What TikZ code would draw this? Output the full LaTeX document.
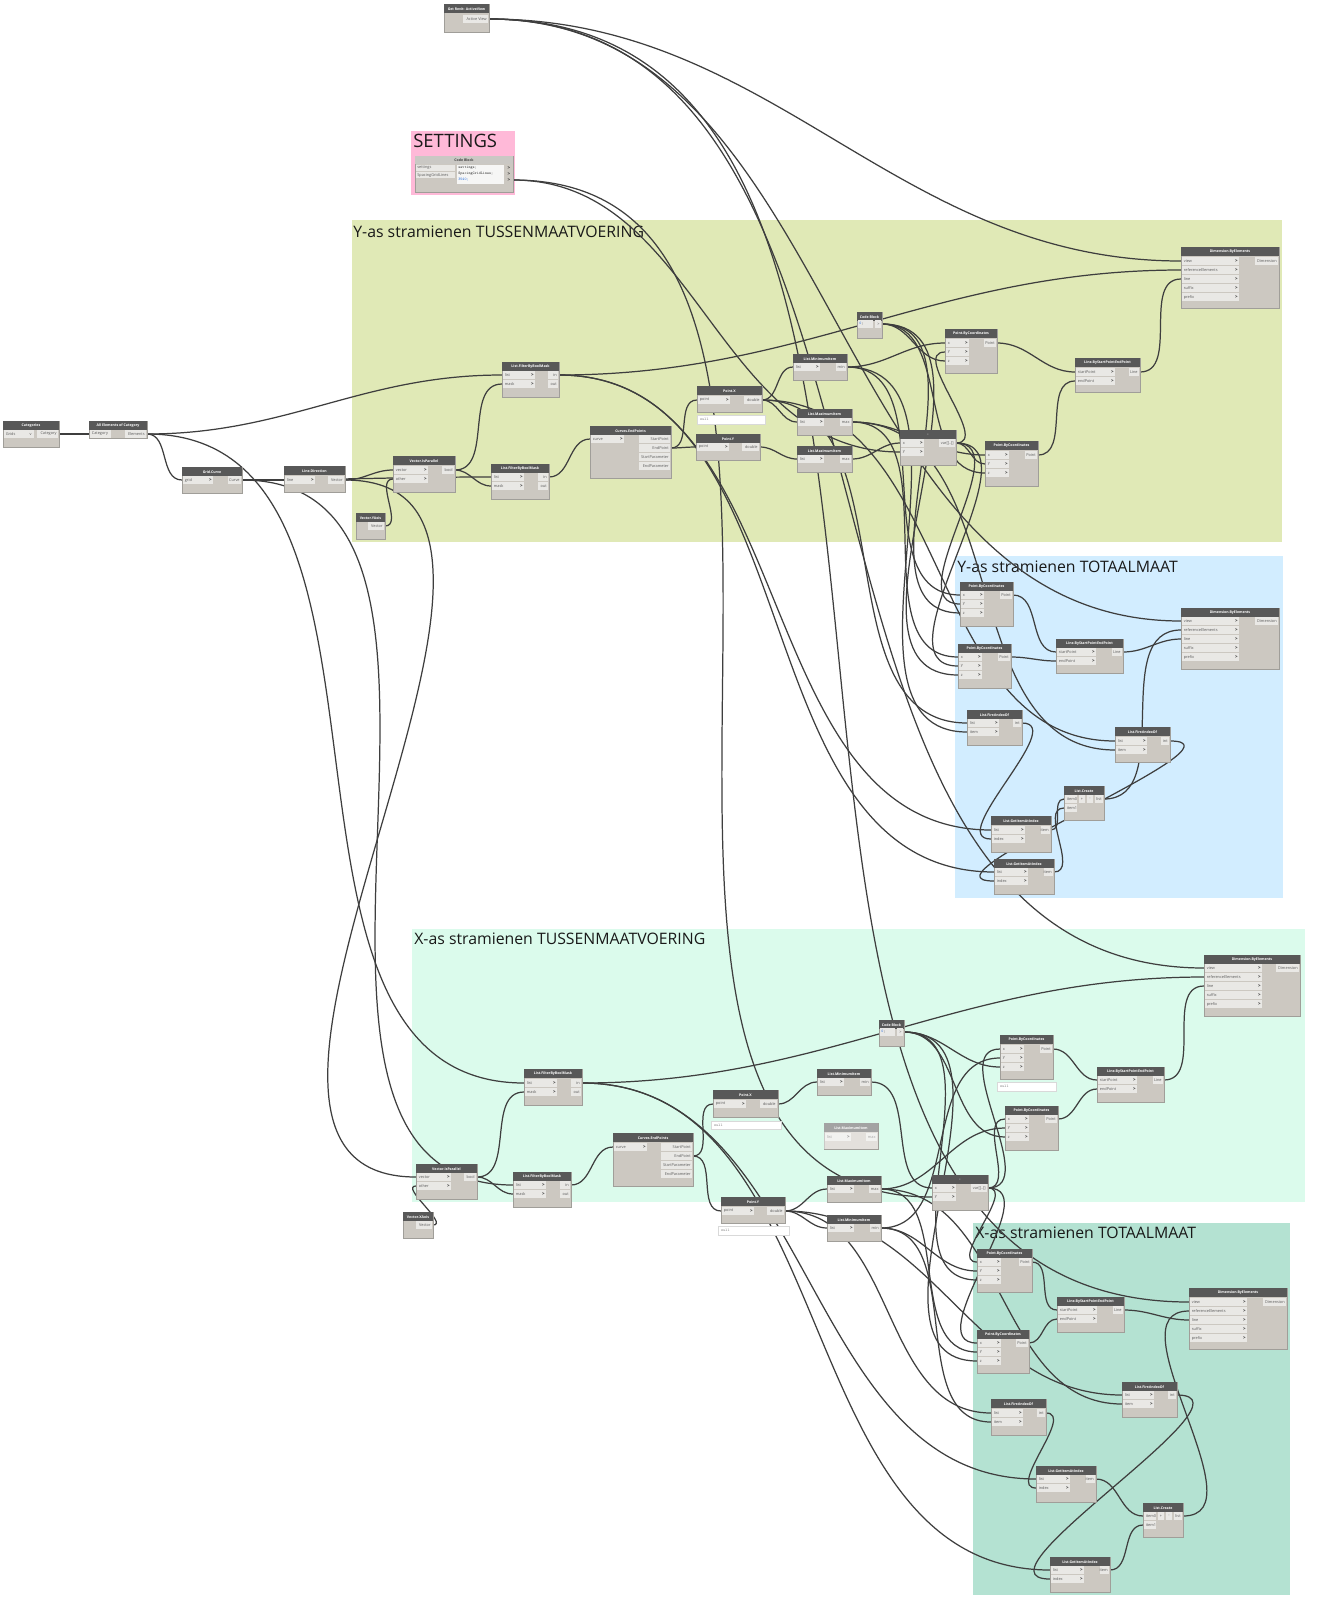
\documentclass[tikz,border=0pt]{standalone}
\usepackage{fontspec}
\newfontfamily\uifont{Open Sans}
\usetikzlibrary{positioning}
\usetikzlibrary{fit}
\usetikzlibrary{backgrounds}

\definecolor{dynhead}{RGB}{88,88,88}
\definecolor{dynheadlight}{RGB}{202,200,196}
\definecolor{dynbody}{RGB}{204,200,193}
\definecolor{dynport}{RGB}{233,232,229}
\definecolor{dynborder}{RGB}{160,158,153}
\definecolor{dynwire}{RGB}{62,62,62}
\definecolor{dyntext}{RGB}{90,90,90}
\definecolor{codeblue}{RGB}{40,110,220}
\definecolor{grpytus}{RGB}{224,233,182}
\definecolor{grpset}{RGB}{255,185,216}
\definecolor{grpytot}{RGB}{210,237,255}
\definecolor{grpxtus}{RGB}{219,251,236}
\definecolor{grpxtot}{RGB}{180,226,210}

\pgfdeclarelayer{groups}
\pgfdeclarelayer{wires}
\pgfsetlayers{groups,wires,main}

\tikzset{
  dbody/.style={fill=dynbody, draw=dynborder, line width=0.3pt, inner sep=0pt, outer sep=0pt},
  dtitle/.style={text=white, inner sep=0pt, font=\uifont\bfseries\fontsize{2}{2.4}\selectfont},
  plabel/.style={text=dyntext, inner sep=0pt, font=\uifont\fontsize{2.2}{2.6}\selectfont},
  parrow/.style={text=black!80, inner sep=0pt, font=\uifont\bfseries\fontsize{2.6}{2.8}\selectfont},
  nullbox/.style={fill=white, draw=black!15, line width=0.2pt, inner sep=0pt},
  nulltext/.style={text=black!50, inner sep=0pt, font=\ttfamily\fontsize{2.2}{2.6}\selectfont},
  codetext/.style={text=black!80, inner sep=0pt, font=\ttfamily\fontsize{2.2}{2.6}\selectfont},
  wire/.style={draw=dynwire, line width=0.7pt, out=0, in=180},
  gtitle/.style={inner sep=0pt, anchor=base west, text=black!90, font=\uifont\fontsize{9}{10}\selectfont},
}

% node body with title bar: name, x1, y1, x2, y2, title
\newcommand{\dnode}[6]{%
  \node[dbody, fit={(#2,#3) (#4,#5)}] (#1) {};
  \fill[dynhead] (#2,#3) rectangle (#4,#3+9);
  \node[dtitle] (#1-t) at ({(#2+#4)/2},#3+4.7) {#6};
}
% input port with arrow: name, x, y, width, label
\newcommand{\pin}[5]{%
  \fill[dynport] (#2+1,#3-4) rectangle (#2+#4,#3+4);
  \node[plabel, anchor=west] (#1-l) at (#2+2.5,#3) {#5};
  \node[parrow, anchor=east] (#1-a) at (#2+#4-1,#3) {>};
  \coordinate (#1) at (#2,#3);
}
% input port without arrow
\newcommand{\pbox}[5]{%
  \fill[dynport] (#2+1,#3-4) rectangle (#2+#4,#3+4);
  \node[plabel, anchor=west] (#1-l) at (#2+2.5,#3) {#5};
  \coordinate (#1) at (#2,#3);
}
% output port: name, x, y, width, label
\newcommand{\pout}[5]{%
  \fill[dynport] (#2-#4,#3-4) rectangle (#2-1,#3+4);
  \node[plabel, anchor=east] (#1-l) at (#2-2,#3) {#5};
  \coordinate (#1) at (#2,#3);
}

\begin{document}
\begin{tikzpicture}[x=0.02cm, y=-0.02cm]
\useasboundingbox (0,0) rectangle (1323,1600);

%%%% groups %%%%
\begin{pgfonlayer}{groups}
	\fill[white] (0,0) rectangle (1323,1600);
	\fill[grpset] (411,131) rectangle (515,195);
	\node[gtitle, font=\uifont\fontsize{10.5}{11}\selectfont] (gset) at (413,147) {SETTINGS};
	\fill[grpytus] (352,220) rectangle (1282,542);
	\node[gtitle] (gytus) at (353,237) {Y-as stramienen TUSSENMAATVOERING};
	\fill[grpytot] (955,556) rectangle (1283,898);
	\node[gtitle] (gytot) at (957,572) {Y-as stramienen TOTAALMAAT};
	\fill[grpxtus] (412,929) rectangle (1305,1202);
	\node[gtitle] (gxtus) at (414,944) {X-as stramienen TUSSENMAATVOERING};
	\fill[grpxtot] (973,1223) rectangle (1290,1595);
	\node[gtitle] (gxtot) at (975,1238) {X-as stramienen TOTAALMAAT};
\end{pgfonlayer}

%%% Inputs %%%

	\dnode{view}{444}{4}{489}{32}{Get Revit: ActiveView}
	\pout{viewO}{489}{19}{26}{Active View}

	\node[dbody, fit={(415,156) (513,192)}] (setcode) {};
	\fill[dynheadlight] (415,156) rectangle (513,164);
	\node[dtitle, text=black!75] (setcode-t) at (464,160.3) {Code Block};
	\fill[dynport] (416,165) rectangle (455,171);
	\node[plabel, anchor=west] (setIa) at (417,168) {settings};
	\fill[dynport] (416,172) rectangle (455,178);
	\node[plabel, anchor=west] (setIb) at (417,175) {SpacingGridLines};
	\fill[white!60!dynport] (457,165) rectangle (504,184);
	\node[codetext, anchor=west] (setC1) at (458,168) {settings;};
	\node[codetext, anchor=west] (setC2) at (458,174) {SpacingGridLines;};
	\node[codetext, anchor=west, text=codeblue] (setC3) at (458,180) {3540;};
	\node[parrow] (setA1) at (509,168) {>};
	\node[parrow] (setA2) at (509,174) {>};
	\node[parrow] (setA3) at (509,180) {>};
	\coordinate (setO) at (513,180);

	\dnode{cat}{3}{421}{59}{447}{Categories}
	\fill[dynport] (4,430) rectangle (34,438);
	\node[plabel, anchor=west] (cat-dd) at (5.5,434) {Grids};
	\node[plabel, anchor=east] (cat-v) at (32,434) {v};
	\pout{catO}{59}{434}{22}{Category}

	\dnode{allel}{89}{421}{147}{438}{All Elements of Category}
	\pbox{allelI}{89}{434}{22}{Category}
	\pout{allelO}{147}{434}{22}{Elements}

	\dnode{gcurve}{182}{467}{242}{493}{Grid.Curve}
	\pin{gcI}{182}{480}{31}{grid}
	\pout{gcO}{242}{480}{14}{Curve}

	\dnode{ldir}{284}{466}{345}{492}{Line.Direction}
	\pin{ldI}{284}{480}{31}{line}
	\pout{ldO}{345}{480}{17}{Vector}

%%% Y-as tussenmaat %%%

	\dnode{yaxis}{356}{513}{385}{539}{Vector.YAxis}
	\pout{yaxO}{385}{526}{17}{Vector}

	\dnode{ypar}{393}{456}{455}{492}{Vector.IsParallel}
	\pin{yparV}{393}{470}{35}{vector}
	\pin{yparOt}{393}{479}{35}{other}
	\pout{yparB}{455}{470}{13}{bool}

	\dnode{yft}{502}{362}{559}{397}{List.FilterByBoolMask}
	\pin{yftL}{502}{375}{33}{list}
	\pin{yftM}{502}{384}{33}{mask}
	\pout{yftI}{559}{375}{11}{in}
	\pout{yftO}{559}{384}{11}{out}

	\dnode{yfl}{491}{464}{549}{499}{List.FilterByBoolMask}
	\pin{yflL}{491}{477}{33}{list}
	\pin{yflM}{491}{486}{33}{mask}
	\pout{yflI}{549}{477}{11}{in}
	\pout{yflO}{549}{486}{11}{out}

	\dnode{yend}{590}{426}{671}{478}{Curves.EndPoints}
	\pin{yendC}{590}{439}{34}{curve}
	\pout{yendS}{671}{439}{32}{StartPoint}
	\pout{yendE}{671}{448}{32}{EndPoint}
	\pout{yendSP}{671}{457}{32}{StartParameter}
	\pout{yendEP}{671}{466}{32}{EndParameter}

	\dnode{ypx}{697}{386}{762}{412}{Point.X}
	\pin{ypxP}{697}{400}{33}{point}
	\pout{ypxD}{762}{400}{18}{double}
	\node[nullbox, fit={(697,415) (765,424)}] (ypx-n) {};
	\node[nulltext, anchor=west] (ypx-nt) at (700,419.5) {null};

	\dnode{ypy}{696}{434}{760}{460}{Point.Y}
	\pin{ypyP}{696}{447}{33}{point}
	\pout{ypyD}{760}{447}{18}{double}

	\dnode{ymin}{793}{354}{847}{380}{List.MinimumItem}
	\pin{yminL}{793}{367}{27}{list}
	\pout{yminO}{847}{367}{11}{min}

	\dnode{ymaxa}{797}{409}{852}{435}{List.MaximumItem}
	\pin{ymaxaL}{797}{422}{27}{list}
	\pout{ymaxaO}{852}{422}{12}{max}

	\dnode{ymaxb}{797}{446}{852}{472}{List.MaximumItem}
	\pin{ymaxbL}{797}{459}{27}{list}
	\pout{ymaxbO}{852}{459}{12}{max}

	\dnode{ycode}{857}{312}{882}{338}{Code Block}
	\fill[dynport] (858,320) rectangle (873,328);
	\node[codetext, anchor=west] (ycode-c) at (859,324) {\textcolor{codeblue}{0};};
	\pout{ycodeO}{882}{324}{7}{>}

	\dnode{ysub}{900}{430}{956}{465}{-}
	\pin{ysubX}{900}{443}{24}{x}
	\pin{ysubY}{900}{452}{24}{y}
	\pout{ysubO}{956}{443}{17}{var[]..[]}

	\dnode{ypa}{945}{329}{997}{373}{Point.ByCoordinates}
	\pin{ypaX}{945}{343}{24}{x}
	\pin{ypaY}{945}{352}{24}{y}
	\pin{ypaZ}{945}{361}{24}{z}
	\pout{ypaO}{997}{343}{13}{Point}

	\dnode{ypb}{985}{441}{1038}{486}{Point.ByCoordinates}
	\pin{ypbX}{985}{455}{24}{x}
	\pin{ypbY}{985}{464}{24}{y}
	\pin{ypbZ}{985}{473}{24}{z}
	\pout{ypbO}{1038}{455}{13}{Point}

	\dnode{yline}{1075}{358}{1140}{392}{Line.ByStartPointEndPoint}
	\pin{ylineS}{1075}{372}{40}{startPoint}
	\pin{ylineE}{1075}{381}{40}{endPoint}
	\pout{ylineO}{1140}{372}{11}{Line}

	\dnode{ydim}{1181}{247}{1279}{308}{Dimension.ByElements}
	\pin{ydimV}{1181}{261}{58}{view}
	\pin{ydimR}{1181}{270}{58}{referenceElements}
	\pin{ydimL}{1181}{279}{58}{line}
	\pin{ydimS}{1181}{288}{58}{suffix}
	\pin{ydimP}{1181}{297}{58}{prefix}
	\pout{ydimO}{1279}{261}{24}{Dimension}

%%% Y-as totaalmaat %%%

	\dnode{ytpa}{960}{582}{1013}{626}{Point.ByCoordinates}
	\pin{ytpaX}{960}{595}{24}{x}
	\pin{ytpaY}{960}{604}{24}{y}
	\pin{ytpaZ}{960}{613}{24}{z}
	\pout{ytpaO}{1013}{595}{13}{Point}

	\dnode{ytpb}{958}{644}{1011}{688}{Point.ByCoordinates}
	\pin{ytpbX}{958}{657}{24}{x}
	\pin{ytpbY}{958}{666}{24}{y}
	\pin{ytpbZ}{958}{675}{24}{z}
	\pout{ytpbO}{1011}{657}{13}{Point}

	\dnode{ytline}{1056}{639}{1123}{673}{Line.ByStartPointEndPoint}
	\pin{ytlineS}{1056}{652}{40}{startPoint}
	\pin{ytlineE}{1056}{661}{40}{endPoint}
	\pout{ytlineO}{1123}{652}{11}{Line}

	\dnode{ytdim}{1181}{608}{1279}{669}{Dimension.ByElements}
	\pin{ytdimV}{1181}{621}{58}{view}
	\pin{ytdimR}{1181}{630}{58}{referenceElements}
	\pin{ytdimL}{1181}{639}{58}{line}
	\pin{ytdimS}{1181}{648}{58}{suffix}
	\pin{ytdimP}{1181}{657}{58}{prefix}
	\pout{ytdimO}{1279}{621}{24}{Dimension}

	\dnode{ytfa}{967}{710}{1022}{745}{List.FirstIndexOf}
	\pin{ytfaL}{967}{723}{32}{list}
	\pin{ytfaI}{967}{732}{32}{item}
	\pout{ytfaO}{1022}{723}{9}{int}

	\dnode{ytfb}{1115}{727}{1170}{762}{List.FirstIndexOf}
	\pin{ytfbL}{1115}{741}{32}{list}
	\pin{ytfbI}{1115}{750}{32}{item}
	\pout{ytfbO}{1170}{741}{9}{int}

	\dnode{ytcr}{1064}{786}{1104}{820}{List.Create}
	\pbox{ytcrI0}{1064}{799}{13}{item0}
	\pbox{ytcrI1}{1064}{808}{13}{item1}
	\fill[dynport] (1079,795) rectangle (1085,803);
	\node[plabel] (ytcr-p) at (1082,799) {+};
	\fill[dynport] (1087,795) rectangle (1093,803);
	\node[plabel] (ytcr-m) at (1090,799) {-};
	\pout{ytcrO}{1104}{799}{9}{list}

	\dnode{ytga}{991}{816}{1051}{852}{List.GetItemAtIndex}
	\pin{ytgaL}{991}{830}{34}{list}
	\pin{ytgaX}{991}{839}{34}{index}
	\pout{ytgaO}{1051}{830}{10}{item}

	\dnode{ytgb}{994}{859}{1054}{894}{List.GetItemAtIndex}
	\pin{ytgbL}{994}{872}{34}{list}
	\pin{ytgbX}{994}{881}{34}{index}
	\pout{ytgbO}{1054}{872}{10}{item}

%%% X-as tussenmaat %%%

	\dnode{xaxis}{403}{1212}{433}{1238}{Vector.XAxis}
	\pout{xaxO}{433}{1225}{17}{Vector}

	\dnode{xpar}{416}{1164}{477}{1199}{Vector.IsParallel}
	\pin{xparV}{416}{1177}{35}{vector}
	\pin{xparOt}{416}{1186}{35}{other}
	\pout{xparB}{477}{1177}{13}{bool}

	\dnode{xft}{524}{1069}{582}{1105}{List.FilterByBoolMask}
	\pin{xftL}{524}{1083}{33}{list}
	\pin{xftM}{524}{1092}{33}{mask}
	\pout{xftI}{582}{1083}{11}{in}
	\pout{xftO}{582}{1092}{11}{out}

	\dnode{xfl}{513}{1172}{571}{1207}{List.FilterByBoolMask}
	\pin{xflL}{513}{1185}{33}{list}
	\pin{xflM}{513}{1194}{33}{mask}
	\pout{xflI}{571}{1185}{11}{in}
	\pout{xflO}{571}{1194}{11}{out}

	\dnode{xend}{613}{1133}{693}{1186}{Curves.EndPoints}
	\pin{xendC}{613}{1147}{34}{curve}
	\pout{xendS}{693}{1147}{32}{StartPoint}
	\pout{xendE}{693}{1156}{32}{EndPoint}
	\pout{xendSP}{693}{1165}{32}{StartParameter}
	\pout{xendEP}{693}{1174}{32}{EndParameter}

	\dnode{xpx}{713}{1090}{778}{1117}{Point.X}
	\pin{xpxP}{713}{1104}{33}{point}
	\pout{xpxD}{778}{1104}{18}{double}
	\node[nullbox, fit={(711,1121) (781,1129)}] (xpx-n) {};
	\node[nulltext, anchor=west] (xpx-nt) at (714,1125) {null};

	\dnode{xpy}{721}{1197}{785}{1223}{Point.Y}
	\pin{xpyP}{721}{1211}{33}{point}
	\pout{xpyD}{785}{1211}{18}{double}
	\node[nullbox, fit={(718,1226) (789,1235)}] (xpy-n) {};
	\node[nulltext, anchor=west] (xpy-nt) at (721,1230.5) {null};

	\dnode{xminu}{817}{1069}{871}{1095}{List.MinimumItem}
	\pin{xminuL}{817}{1082}{27}{list}
	\pout{xminuO}{871}{1082}{11}{min}

	\dnode{xmaxf}{824}{1123}{878}{1149}{List.MaximumItem}
	\pin{xmaxfL}{824}{1137}{27}{list}
	\pout{xmaxfO}{878}{1137}{12}{max}
	\fill[white, opacity=0.45] (xmaxf.south west) rectangle (xmaxf.north east);

	\dnode{xmax}{827}{1176}{881}{1202}{List.MaximumItem}
	\pin{xmaxL}{827}{1189}{27}{list}
	\pout{xmaxO}{881}{1189}{12}{max}

	\dnode{xminl}{827}{1215}{881}{1241}{List.MinimumItem}
	\pin{xminlL}{827}{1228}{27}{list}
	\pout{xminlO}{881}{1228}{11}{min}

	\dnode{xcode}{879}{1020}{904}{1046}{Code Block}
	\fill[dynport] (880,1028) rectangle (895,1036);
	\node[codetext, anchor=west] (xcode-c) at (881,1032) {\textcolor{codeblue}{0};};
	\pout{xcodeO}{904}{1032}{7}{>}

	\dnode{xsub}{932}{1175}{988}{1210}{-}
	\pin{xsubX}{932}{1188}{24}{x}
	\pin{xsubY}{932}{1197}{24}{y}
	\pout{xsubO}{988}{1188}{17}{var[]..[]}

	\dnode{xpa}{1000}{1035}{1053}{1079}{Point.ByCoordinates}
	\pin{xpaX}{1000}{1049}{24}{x}
	\pin{xpaY}{1000}{1058}{24}{y}
	\pin{xpaZ}{1000}{1067}{24}{z}
	\pout{xpaO}{1053}{1049}{13}{Point}
	\node[nullbox, fit={(997,1082) (1056,1091)}] (xpa-n) {};
	\node[nulltext, anchor=west] (xpa-nt) at (1000,1086.5) {null};

	\dnode{xpb}{1005}{1106}{1058}{1150}{Point.ByCoordinates}
	\pin{xpbX}{1005}{1119}{24}{x}
	\pin{xpbY}{1005}{1128}{24}{y}
	\pin{xpbZ}{1005}{1137}{24}{z}
	\pout{xpbO}{1058}{1119}{13}{Point}

	\dnode{xline}{1097}{1067}{1164}{1102}{Line.ByStartPointEndPoint}
	\pin{xlineS}{1097}{1080}{40}{startPoint}
	\pin{xlineE}{1097}{1089}{40}{endPoint}
	\pout{xlineO}{1164}{1080}{11}{Line}

	\dnode{xdim}{1204}{955}{1300}{1016}{Dimension.ByElements}
	\pin{xdimV}{1204}{968}{58}{view}
	\pin{xdimR}{1204}{977}{58}{referenceElements}
	\pin{xdimL}{1204}{986}{58}{line}
	\pin{xdimS}{1204}{995}{58}{suffix}
	\pin{xdimP}{1204}{1004}{58}{prefix}
	\pout{xdimO}{1300}{968}{24}{Dimension}

%%% X-as totaalmaat %%%

	\dnode{xtpa}{977}{1249}{1032}{1292}{Point.ByCoordinates}
	\pin{xtpaX}{977}{1262}{24}{x}
	\pin{xtpaY}{977}{1271}{24}{y}
	\pin{xtpaZ}{977}{1280}{24}{z}
	\pout{xtpaO}{1032}{1262}{13}{Point}

	\dnode{xtpb}{977}{1330}{1029}{1373}{Point.ByCoordinates}
	\pin{xtpbX}{977}{1343}{24}{x}
	\pin{xtpbY}{977}{1352}{24}{y}
	\pin{xtpbZ}{977}{1361}{24}{z}
	\pout{xtpbO}{1029}{1343}{13}{Point}

	\dnode{xtline}{1057}{1297}{1124}{1332}{Line.ByStartPointEndPoint}
	\pin{xtlineS}{1057}{1310}{40}{startPoint}
	\pin{xtlineE}{1057}{1319}{40}{endPoint}
	\pout{xtlineO}{1124}{1310}{11}{Line}

	\dnode{xtdim}{1189}{1288}{1287}{1349}{Dimension.ByElements}
	\pin{xtdimV}{1189}{1302}{58}{view}
	\pin{xtdimR}{1189}{1311}{58}{referenceElements}
	\pin{xtdimL}{1189}{1320}{58}{line}
	\pin{xtdimS}{1189}{1329}{58}{suffix}
	\pin{xtdimP}{1189}{1338}{58}{prefix}
	\pout{xtdimO}{1287}{1302}{24}{Dimension}

	\dnode{xtfb}{1122}{1382}{1177}{1417}{List.FirstIndexOf}
	\pin{xtfbL}{1122}{1395}{32}{list}
	\pin{xtfbI}{1122}{1404}{32}{item}
	\pout{xtfbO}{1177}{1395}{9}{int}

	\dnode{xtfa}{991}{1399}{1046}{1435}{List.FirstIndexOf}
	\pin{xtfaL}{991}{1413}{32}{list}
	\pin{xtfaI}{991}{1422}{32}{item}
	\pout{xtfaO}{1046}{1413}{9}{int}

	\dnode{xtga}{1036}{1466}{1096}{1502}{List.GetItemAtIndex}
	\pin{xtgaL}{1036}{1479}{34}{list}
	\pin{xtgaX}{1036}{1488}{34}{index}
	\pout{xtgaO}{1096}{1479}{10}{item}

	\dnode{xtcr}{1143}{1503}{1183}{1537}{List.Create}
	\pbox{xtcrI0}{1143}{1516}{13}{item0}
	\pbox{xtcrI1}{1143}{1525}{13}{item1}
	\fill[dynport] (1158,1512) rectangle (1164,1520);
	\node[plabel] (xtcr-p) at (1161,1516) {+};
	\fill[dynport] (1166,1512) rectangle (1172,1520);
	\node[plabel] (xtcr-m) at (1169,1516) {-};
	\pout{xtcrO}{1183}{1516}{9}{list}

	\dnode{xtgb}{1050}{1557}{1110}{1592}{List.GetItemAtIndex}
	\pin{xtgbL}{1050}{1570}{34}{list}
	\pin{xtgbX}{1050}{1579}{34}{index}
	\pout{xtgbO}{1110}{1570}{10}{item}

%%%% wires %%%%
\begin{pgfonlayer}{wires}
	\draw[wire] (catO) to (allelI);
	\draw[wire] (allelO) to (gcI);
	\draw[wire] (allelO) to (yftL);
	\draw[wire] (allelO) to (xftL);
	\draw[wire] (gcO) to (ldI);
	\draw[wire] (gcO) to (yflL);
	\draw[wire] (gcO) to (xflL);
	\draw[wire] (ldO) to (yparV);
	\draw[wire] (ldO) to (xparV);
	\draw[wire] (viewO) to (ydimV);
	\draw[wire] (viewO) to (ytdimV);
	\draw[wire] (viewO) to (xdimV);
	\draw[wire] (viewO) to (xtdimV);
	\draw[wire] (setO) to (ysubY);
	\draw[wire] (setO) to (xsubY);

	% Y-as
	\draw[wire] (yaxO) to (yparOt);
	\draw[wire] (yparB) to (yftM);
	\draw[wire] (yparB) to (yflM);
	\draw[wire] (yflI) to (yendC);
	\draw[wire] (yendE) to (ypxP);
	\draw[wire] (yendE) to (ypyP);
	\draw[wire] (ypxD) to (yminL);
	\draw[wire] (ypxD) to (ymaxaL);
	\draw[wire] (ypxD) to (ytfaL);
	\draw[wire] (ypxD) to (ytfbL);
	\draw[wire] (ypyD) to (ymaxbL);
	\draw[wire] (ymaxbO) to (ysubX);
	\draw[wire] (yminO) to (ypaX);
	\draw[wire] (yminO) to (ytpaX);
	\draw[wire] (yminO) to (ytfaI);
	\draw[wire] (ymaxaO) to (ypbX);
	\draw[wire] (ymaxaO) to (ytpbX);
	\draw[wire] (ymaxaO) to (ytfbI);
	\draw[wire] (ysubO) to (ypaY);
	\draw[wire] (ysubO) to (ypbY);
	\draw[wire] (ysubO) to (ytpaY);
	\draw[wire] (ysubO) to (ytpbY);
	\draw[wire] (ycodeO) to (ypaZ);
	\draw[wire] (ycodeO) to (ypbZ);
	\draw[wire] (ycodeO) to (ytpaZ);
	\draw[wire] (ycodeO) to (ytpbZ);
	\draw[wire] (ypaO) to (ylineS);
	\draw[wire] (ypbO) to (ylineE);
	\draw[wire] (ylineO) to (ydimL);
	\draw[wire] (yftI) to (ydimR);
	\draw[wire] (yftI) to (ytgaL);
	\draw[wire] (yftI) to (ytgbL);
	\draw[wire] (ytpaO) to (ytlineS);
	\draw[wire] (ytpbO) to (ytlineE);
	\draw[wire] (ytlineO) to (ytdimL);
	\draw[wire] (ytfaO) to (ytgaX);
	\draw[wire] (ytfbO) to (ytgbX);
	\draw[wire] (ytgaO) to (ytcrI0);
	\draw[wire] (ytgbO) to (ytcrI1);
	\draw[wire] (ytcrO) to (ytdimR);

	% X-as
	\draw[wire] (xaxO) to (xparOt);
	\draw[wire] (xparB) to (xftM);
	\draw[wire] (xparB) to (xflM);
	\draw[wire] (xflI) to (xendC);
	\draw[wire] (xendE) to (xpxP);
	\draw[wire] (xendE) to (xpyP);
	\draw[wire] (xpxD) to (xminuL);
	\draw[wire] (xminuO) to (xsubX);
	\draw[wire] (xpyD) to (xmaxL);
	\draw[wire] (xpyD) to (xminlL);
	\draw[wire] (xpyD) to (xtfaL);
	\draw[wire] (xpyD) to (xtfbL);
	\draw[wire] (xminlO) to (xpaY);
	\draw[wire] (xminlO) to (xtpaY);
	\draw[wire] (xminlO) to (xtfaI);
	\draw[wire] (xmaxO) to (xpbY);
	\draw[wire] (xmaxO) to (xtpbY);
	\draw[wire] (xmaxO) to (xtfbI);
	\draw[wire] (xsubO) to (xpaX);
	\draw[wire] (xsubO) to (xpbX);
	\draw[wire] (xsubO) to (xtpaX);
	\draw[wire] (xsubO) to (xtpbX);
	\draw[wire] (xcodeO) to (xpaZ);
	\draw[wire] (xcodeO) to (xpbZ);
	\draw[wire] (xcodeO) to (xtpaZ);
	\draw[wire] (xcodeO) to (xtpbZ);
	\draw[wire] (xpaO) to (xlineS);
	\draw[wire] (xpbO) to (xlineE);
	\draw[wire] (xlineO) to (xdimL);
	\draw[wire] (xftI) to (xdimR);
	\draw[wire] (xftI) to (xtgaL);
	\draw[wire] (xftI) to (xtgbL);
	\draw[wire] (xtpaO) to (xtlineS);
	\draw[wire] (xtpbO) to (xtlineE);
	\draw[wire] (xtlineO) to (xtdimL);
	\draw[wire] (xtfaO) to (xtgaX);
	\draw[wire] (xtfbO) to (xtgbX);
	\draw[wire] (xtgaO) to (xtcrI0);
	\draw[wire] (xtgbO) to (xtcrI1);
	\draw[wire] (xtcrO) to (xtdimR);
\end{pgfonlayer}

\end{tikzpicture}
\end{document}
